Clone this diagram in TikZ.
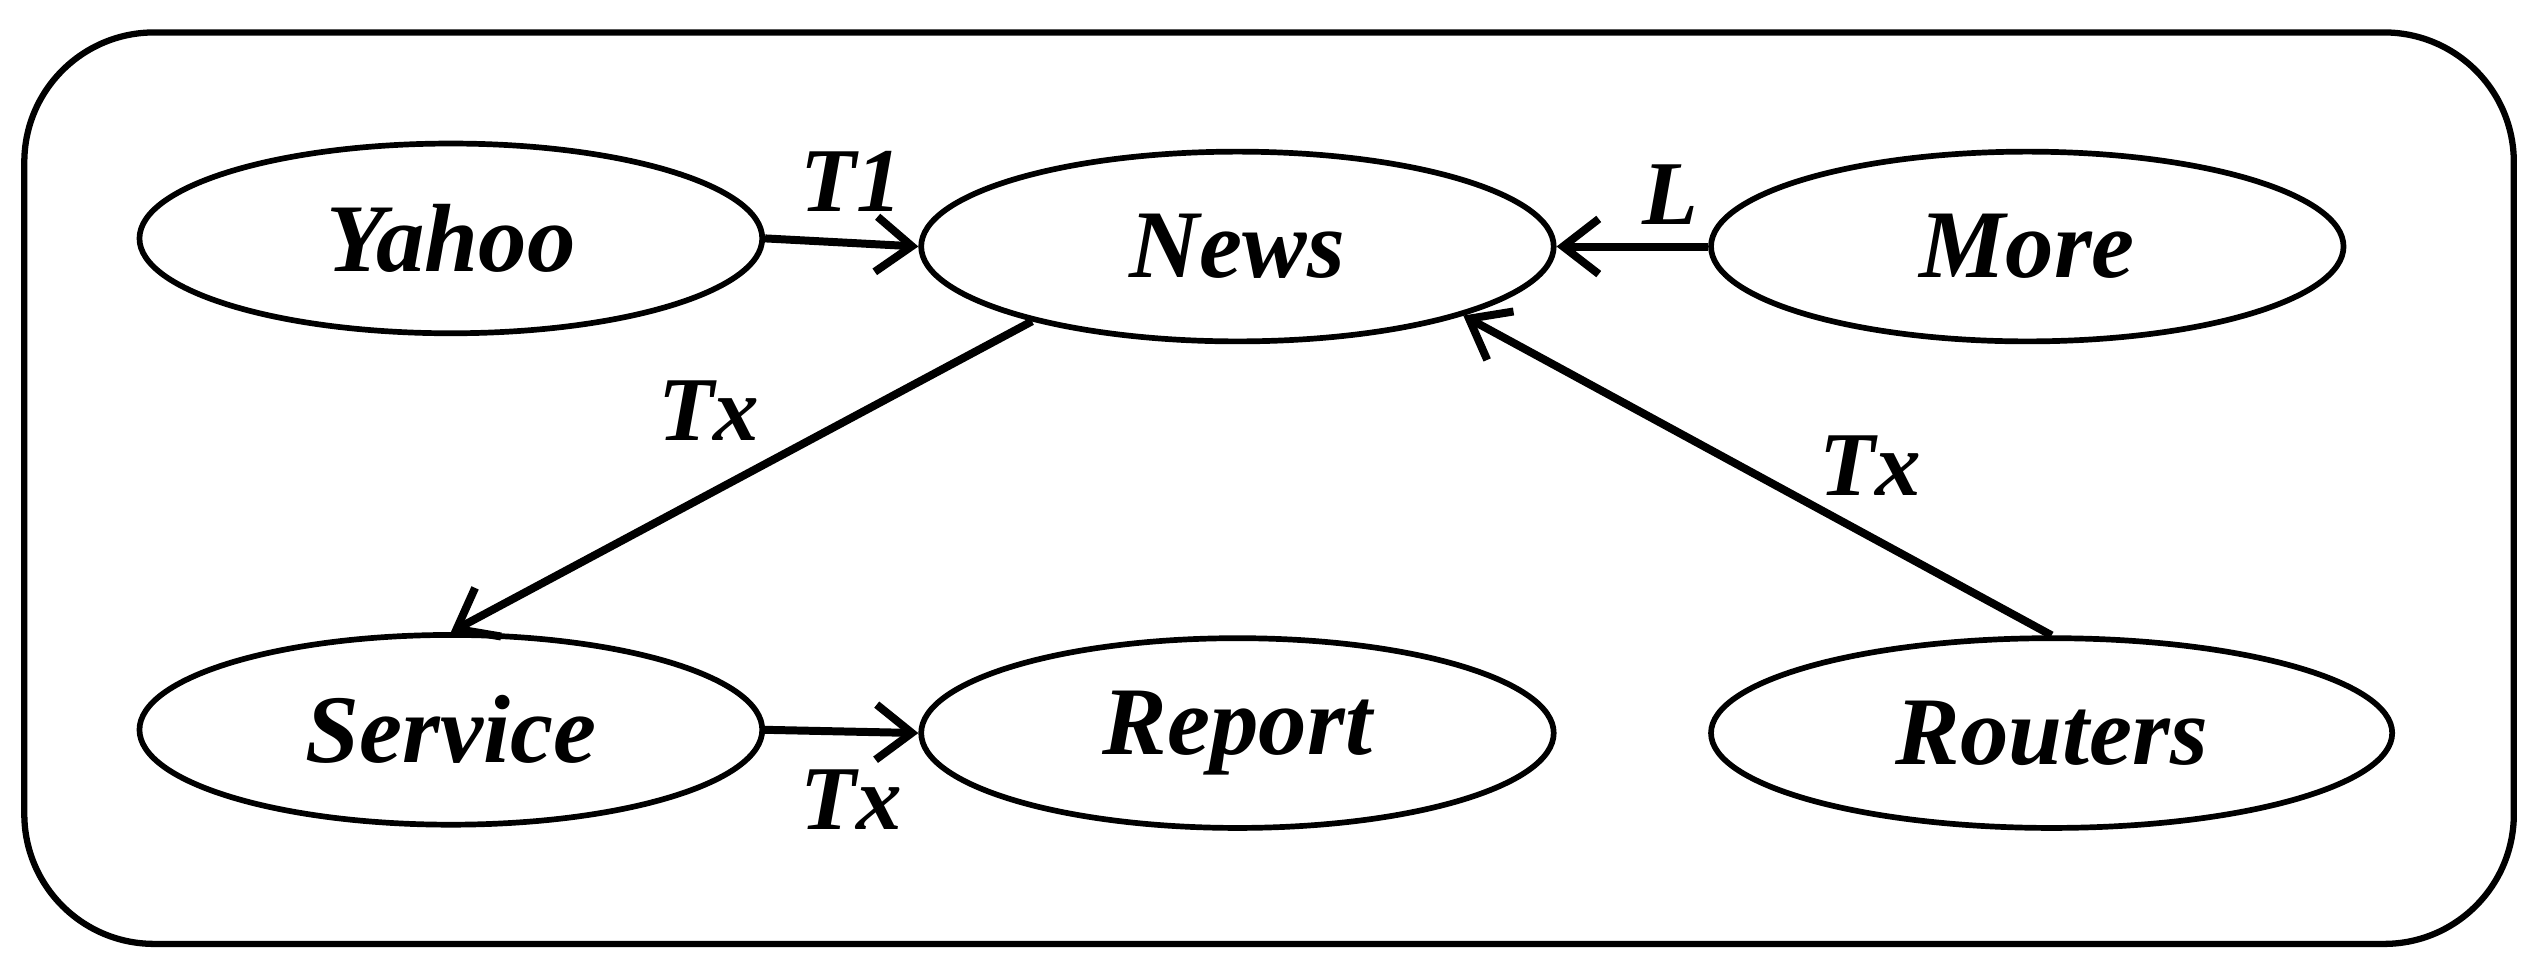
\documentclass[tikz,border=0pt]{standalone}
\usepackage{fontspec}
\setmainfont{Liberation Serif}
\usetikzlibrary{shapes.geometric,arrows.meta}
\tikzset{
  blob/.style={draw, ellipse, line width=1pt, inner sep=0pt, minimum height=1.17cm, font=\fontsize{17}{19}\selectfont\bfseries\itshape},
  link/.style={line width=1.4pt, -{Straight Barb[length=2.2mm,width=3.4mm,line width=1.4pt]}},
  tag/.style={font=\fontsize{16}{18}\selectfont\bfseries\itshape}
}
\begin{document}
\begin{tikzpicture}
        \useasboundingbox (0,0) rectangle (15.68,6.0);
        \draw[line width=1.1pt, rounded corners=0.8cm] (0.15,0.18) rectangle (15.50,5.80);
        %
        \node[blob, minimum width=3.84cm] (yahoo) at (2.78,4.53) {Yahoo};
        \node[blob, minimum width=3.90cm] (news) at (7.63,4.48) {News};
        \node[blob, minimum width=3.90cm] (more) at (12.50,4.48) {More};
        \node[blob, minimum width=3.84cm] (service) at (2.78,1.50) {Service};
        \node[blob, minimum width=3.90cm] (report) at (7.63,1.48) {Report};
        \node[blob, minimum width=4.20cm] (routers) at (12.65,1.48) {Routers};
        %
        \draw[link] (yahoo.east) -- (news.west);
        \draw[link] (more.west) -- (news.east);
        \draw[link] (news.200) -- (service.north);
        \draw[link] (routers.north) -- (news.-17);
        \draw[link] (service.east) -- (report.west);
        %
        \node[tag] (t1) at (5.25,4.88) {T1};
        \node[tag] (l) at (10.30,4.80) {L};
        \node[tag] (tx1) at (4.37,3.47) {Tx};
        \node[tag] (tx2) at (11.53,3.13) {Tx};
        \node[tag] (tx3) at (5.25,1.07) {Tx};
\end{tikzpicture}
\end{document}
